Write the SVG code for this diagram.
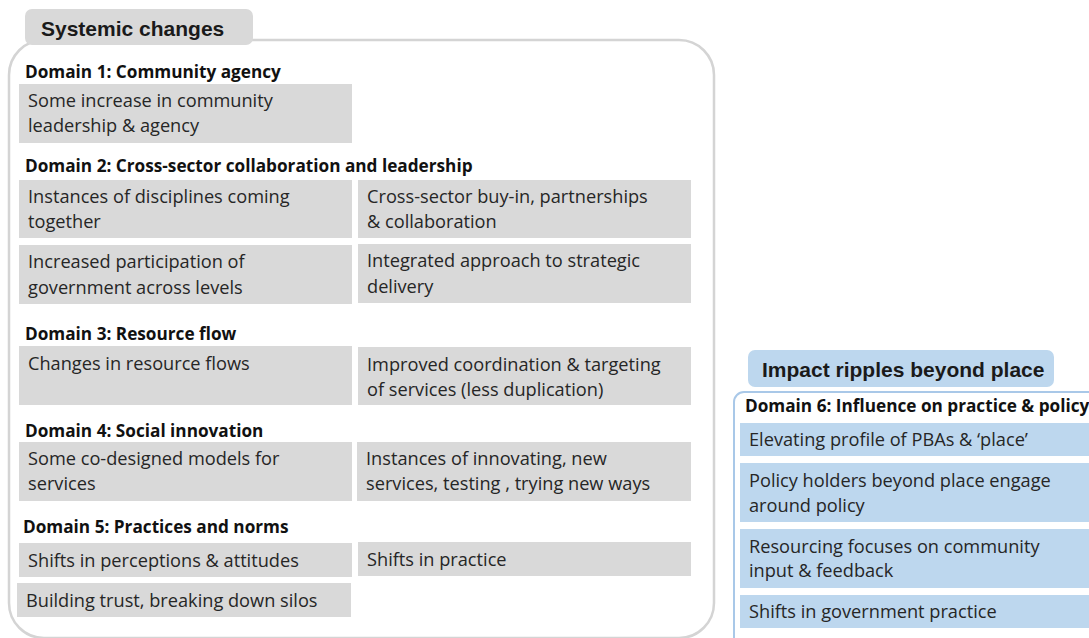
<svg xmlns="http://www.w3.org/2000/svg" width="1089" height="638" viewBox="0 0 1089 638">
<style>
.frame{fill:#ffffff;stroke:#d4d4d4;stroke-width:2.5}
.bframe{fill:#ffffff;stroke:#a9c8e8;stroke-width:2}
.tab{fill:#d9d9d9}
.btab{fill:#bdd7ee}
.box{fill:#d9d9d9}
.bbox{fill:#bdd7ee}
.title{font-family:"Liberation Sans",Arial,sans-serif;font-weight:bold;font-size:21px;fill:#1a1a1a}
.head{font-family:"Open Sans","Noto Sans",sans-serif;font-weight:bold;font-size:17.2px;fill:#111111}
.txt{font-family:"Open Sans","Noto Sans",sans-serif;font-size:18.2px;fill:#262626}
</style>
<g id="systemic-changes">
<rect class="frame" x="9" y="40" width="705" height="598" rx="35"/>
<rect class="tab" x="25" y="9" width="228" height="36" rx="7"/>
<text class="title" x="41" y="36">Systemic changes</text>
</g>
<g id="domain1">
<text class="head" x="25" y="78">Domain 1: Community agency</text>
<g id="d1-a"><rect class="box" x="19" y="84" width="333" height="59"/>
<text class="txt" x="28" y="107">Some increase in community</text>
<text class="txt" x="28" y="132">leadership &amp; agency</text></g>
</g>
<g id="domain2">
<text class="head" x="25" y="172">Domain 2: Cross-sector collaboration and leadership</text>
<g id="d2-a"><rect class="box" x="19" y="180" width="333" height="58"/>
<text class="txt" x="28" y="203">Instances of disciplines coming</text>
<text class="txt" x="28" y="228">together</text></g>
<g id="d2-b"><rect class="box" x="358" y="180" width="333" height="58"/>
<text class="txt" x="367" y="203">Cross-sector buy-in, partnerships</text>
<text class="txt" x="367" y="228">&amp; collaboration</text></g>
<g id="d2-c"><rect class="box" x="19" y="245" width="333" height="59"/>
<text class="txt" x="28" y="268">Increased participation of</text>
<text class="txt" x="28" y="294">government across levels</text></g>
<g id="d2-d"><rect class="box" x="358" y="244" width="333" height="59"/>
<text class="txt" x="367" y="267">Integrated approach to strategic</text>
<text class="txt" x="367" y="293">delivery</text></g>
</g>
<g id="domain3">
<text class="head" x="25" y="340">Domain 3: Resource flow</text>
<g id="d3-a"><rect class="box" x="19" y="346" width="333" height="59"/>
<text class="txt" x="28" y="370">Changes in resource flows</text></g>
<g id="d3-b"><rect class="box" x="358" y="347" width="333" height="58"/>
<text class="txt" x="367" y="371">Improved coordination &amp; targeting</text>
<text class="txt" x="367" y="396">of services (less duplication)</text></g>
</g>
<g id="domain4">
<text class="head" x="25" y="437">Domain 4: Social innovation</text>
<g id="d4-a"><rect class="box" x="19" y="442" width="333" height="59"/>
<text class="txt" x="28" y="465">Some co-designed models for</text>
<text class="txt" x="28" y="490">services</text></g>
<g id="d4-b"><rect class="box" x="357" y="442" width="334" height="59"/>
<text class="txt" x="366" y="465">Instances of innovating, new</text>
<text class="txt" x="366" y="490">services, testing , trying new ways</text></g>
</g>
<g id="domain5">
<text class="head" x="23" y="533">Domain 5: Practices and norms</text>
<g id="d5-a"><rect class="box" x="19" y="543" width="333" height="34"/>
<text class="txt" x="28" y="567">Shifts in perceptions &amp; attitudes</text></g>
<g id="d5-b"><rect class="box" x="358" y="542" width="333" height="34"/>
<text class="txt" x="367" y="566">Shifts in practice</text></g>
<g id="d5-c"><rect class="box" x="17" y="583" width="334" height="34"/>
<text class="txt" x="26" y="607">Building trust, breaking down silos</text></g>
</g>
<g id="impact-ripples">
<rect class="bframe" x="734" y="392" width="420" height="300" rx="10"/>
<rect class="btab" x="748" y="350" width="306" height="37" rx="7"/>
<text class="title" x="762" y="377">Impact ripples beyond place</text>
</g>
<g id="domain6">
<text class="head" x="745" y="412">Domain 6: Influence on practice &amp; policy</text>
<g id="d6-a"><rect class="bbox" x="740" y="423" width="360" height="33"/>
<text class="txt" x="749" y="446">Elevating profile of PBAs &amp; ‘place’</text></g>
<g id="d6-b"><rect class="bbox" x="740" y="463" width="360" height="59"/>
<text class="txt" x="749" y="487">Policy holders beyond place engage</text>
<text class="txt" x="749" y="512">around policy</text></g>
<g id="d6-c"><rect class="bbox" x="740" y="529" width="360" height="59"/>
<text class="txt" x="749" y="553">Resourcing focuses on community</text>
<text class="txt" x="749" y="577">input &amp; feedback</text></g>
<g id="d6-d"><rect class="bbox" x="740" y="595" width="360" height="33"/>
<text class="txt" x="749" y="618">Shifts in government practice</text></g>
</g>
<g id="connectors"/>
</svg>
